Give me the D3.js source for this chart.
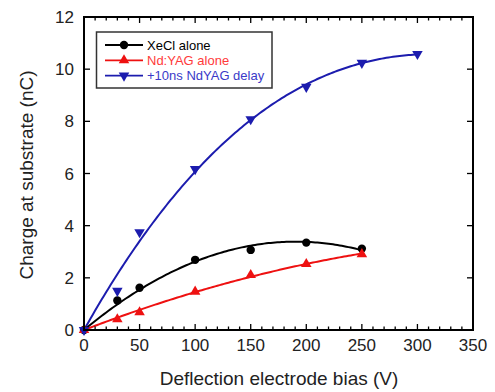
<!DOCTYPE html>
<html><head><meta charset="utf-8">
<script src="https://cdn.jsdelivr.net/npm/d3@7"></script>
<style>body{margin:0;background:#fff}svg{display:block}text{font-family:"Liberation Sans",Arial,sans-serif}</style>
</head><body>
<script>
const biasV = [0, 30, 50, 100, 150, 200, 250, 300];
const xeclAlone = [0, 1.13, 1.62, 2.69, 3.07, 3.35, 3.12];
const ndyagAlone = [0, 0.41, 0.68, 1.47, 2.11, 2.53, 2.91];
const delayed = [0, 1.5, 3.75, 6.17, 8.08, 9.32, 10.24, 10.58];
const seriesNames = ["XeCl alone", "Nd:YAG alone", "+10ns NdYAG delay"];
const xTicks = [0, 50, 100, 150, 200, 250, 300, 350];
const yTicks = [0, 2, 4, 6, 8, 10, 12];

const W = 495, H = 392;
const L = 84, R = 473, T = 17, B = 330;
const svg = d3.select("body").append("svg").attr("width", W).attr("height", H);
const x = d3.scaleLinear().domain([0, 350]).range([L, R]);
const y = d3.scaleLinear().domain([0, 12]).range([B, T]);

// least squares fit through origin: y = a x + b x^2 (+ c x^3)
function fit(xs, ys, deg) {
  const n = deg;
  const sc = 100; // scale x for numerical stability
  const A = Array.from({length: n}, () => Array(n + 1).fill(0));
  xs.forEach((xv, i) => {
    const row = d3.range(1, n + 1).map(p => Math.pow(xv / sc, p));
    for (let r = 0; r < n; r++) {
      for (let c = 0; c < n; c++) A[r][c] += row[r] * row[c];
      A[r][n] += row[r] * ys[i];
    }
  });
  for (let i = 0; i < n; i++) {
    let piv = A[i][i];
    for (let j = i; j <= n; j++) A[i][j] /= piv;
    for (let k = 0; k < n; k++) if (k !== i) {
      const f = A[k][i];
      for (let j = i; j <= n; j++) A[k][j] -= f * A[i][j];
    }
  }
  const coef = A.map(r => r[n]);
  return xv => coef.reduce((s, c, p) => s + c * Math.pow(xv / sc, p + 1), 0);
}

const series = [
  {name: seriesNames[0], vals: xeclAlone, color: "#000000", text: "#000000", sym: "circle", deg: 2},
  {name: seriesNames[1], vals: ndyagAlone, color: "#ee1111", text: "#ff3a3a", sym: "up", deg: 2},
  {name: seriesNames[2], vals: delayed, color: "#1c1cae", text: "#3a3ac8", sym: "down", deg: 3}
];

function marker(g, sym, color, cx, cy) {
  if (sym === "circle") {
    g.append("circle").attr("cx", cx).attr("cy", cy).attr("r", 4.2).attr("fill", color);
  } else {
    const p = d3.symbol().type(d3.symbolTriangle).size(48)();
    g.append("path").attr("d", p).attr("fill", color)
      .attr("transform", `translate(${cx},${cy})` + (sym === "down" ? " rotate(180)" : ""));
  }
}

// fit curves
series.forEach(s => {
  const xs = biasV.slice(0, s.vals.length);
  const f = fit(xs, s.vals, s.deg);
  const xmax = d3.max(xs);
  const pts = d3.range(0, xmax + 0.01, 2).map(v => [v, f(v)]);
  svg.append("path").datum(pts)
    .attr("d", d3.line().x(d => x(d[0])).y(d => y(d[1])).curve(d3.curveLinear))
    .attr("fill", "none").attr("stroke", s.color).attr("stroke-width", 2);
});
// markers
series.forEach(s => {
  const g = svg.append("g");
  s.vals.forEach((v, i) => marker(g, s.sym, s.color, x(biasV[i]), y(v)));
});

// frame
svg.append("rect").attr("x", L).attr("y", T).attr("width", R - L).attr("height", B - T)
  .attr("fill", "none").attr("stroke", "#000").attr("stroke-width", 2);

// ticks
const tk = svg.append("g").attr("stroke", "#000").attr("stroke-width", 1.3);
d3.range(0, 351, 10).forEach(v => {
  const major = v % 50 === 0;
  const len = major ? 6 : 3.5;
  tk.append("line").attr("x1", x(v)).attr("x2", x(v)).attr("y1", B).attr("y2", B - len);
  tk.append("line").attr("x1", x(v)).attr("x2", x(v)).attr("y1", T).attr("y2", T + len);
});
yTicks.forEach(v => {
  tk.append("line").attr("x1", L).attr("x2", L + 6).attr("y1", y(v)).attr("y2", y(v));
  tk.append("line").attr("x1", R).attr("x2", R - 6).attr("y1", y(v)).attr("y2", y(v));
});

// tick labels
svg.append("g").selectAll("text").data(xTicks).join("text")
  .attr("x", d => x(d)).attr("y", 351).attr("text-anchor", "middle")
  .attr("font-size", 17).attr("fill", "#222").text(d => d);
svg.append("g").selectAll("text").data(yTicks).join("text")
  .attr("x", 74).attr("y", d => y(d) + 6).attr("text-anchor", "end")
  .attr("font-size", 17).attr("fill", "#222").text(d => d);

// axis titles
svg.append("text").attr("x", 279).attr("y", 385).attr("text-anchor", "middle")
  .attr("font-size", 19).attr("fill", "#222").text("Deflection electrode bias (V)");
svg.append("text").attr("transform", "translate(33,175) rotate(-90)").attr("text-anchor", "middle")
  .attr("font-size", 19).attr("fill", "#222").text("Charge at substrate (nC)");

// legend
const lg = svg.append("g");
lg.append("rect").attr("x", 96.5).attr("y", 32).attr("width", 175.5).attr("height", 56)
  .attr("fill", "#fff").attr("stroke", "#333").attr("stroke-width", 1.5);
series.forEach((s, i) => {
  const yy = 45 + i * 15.3;
  lg.append("line").attr("x1", 105).attr("x2", 143).attr("y1", yy).attr("y2", yy)
    .attr("stroke", s.color).attr("stroke-width", 1.8);
  marker(lg, s.sym, s.color, 124, yy);
  lg.append("text").attr("x", 147).attr("y", yy + 4.5).attr("font-size", 13)
    .attr("fill", s.text).text(s.name);
});
</script>
</body></html>
